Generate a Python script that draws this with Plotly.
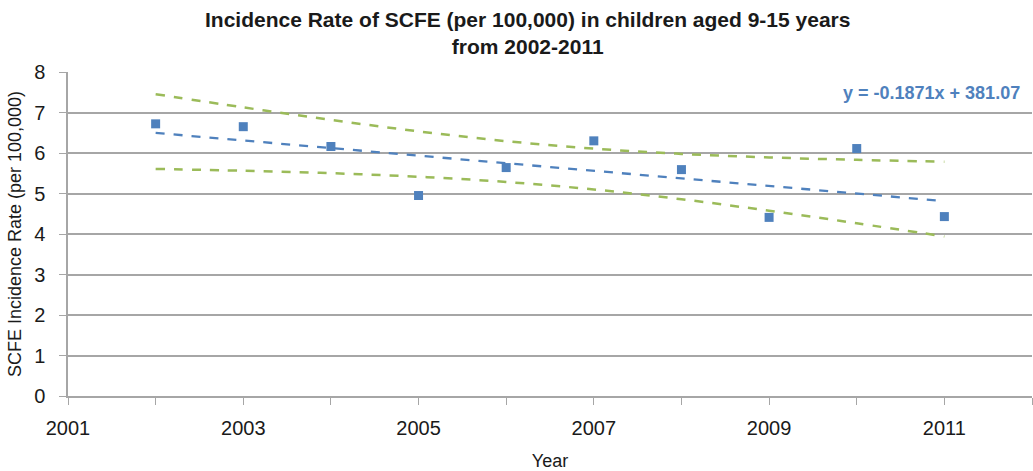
import numpy as np
import plotly.graph_objects as go

years = [2002, 2003, 2004, 2005, 2006, 2007, 2008, 2009, 2010, 2011]
rates = [6.72, 6.65, 6.16, 4.95, 5.64, 6.30, 5.59, 4.41, 6.11, 4.43]
trend_slope = -0.1871
trend_intercept = 381.07
t_crit = 2.306  # t(0.975, df=8)

x = np.array(years, dtype=float)
y = np.array(rates)
n = len(x)
b, a = np.polyfit(x, y, 1)
fit = a + b * x
s = np.sqrt(np.sum((y - fit) ** 2) / (n - 2))
sxx = np.sum((x - x.mean()) ** 2)
half = t_crit * s * np.sqrt(1.0 / n + (x - x.mean()) ** 2 / sxx)
trend = trend_intercept + trend_slope * x

blue = "#4F81BD"
green = "#9BBB59"
font = "Liberation Sans"
text_col = "#1a1a1a"
grid_col = "#A6A6A6"

fig = go.Figure()
fig.add_trace(go.Scatter(x=x, y=fit + half, mode="lines", line=dict(color=green, width=2.5, dash="dash", shape="spline"), hoverinfo="skip"))
fig.add_trace(go.Scatter(x=x, y=fit - half, mode="lines", line=dict(color=green, width=2.5, dash="dash", shape="spline"), hoverinfo="skip"))
fig.add_trace(go.Scatter(x=x, y=trend, mode="lines", line=dict(color=blue, width=2.3, dash="dash")))
fig.add_trace(go.Scatter(x=years, y=rates, mode="markers", marker=dict(symbol="square", size=9, color=blue)))

fig.add_annotation(x=1, xref="paper", xanchor="right", y=7.49, yref="y", yanchor="middle",
                   text="<b>y = -0.1871x + 381.07</b>", showarrow=False,
                   font=dict(family=font, size=18, color=blue), xshift=-10)

fig.add_annotation(x=0.477, xref="paper", xanchor="center", y=1, yref="paper", yanchor="bottom",
                   yshift=12,
                   text="<b>Incidence Rate of SCFE (per 100,000) in children aged 9-15 years<br>from 2002-2011</b>",
                   showarrow=False, font=dict(family=font, size=21, color=text_col))

fig.update_layout(
    width=1033, height=471,
    margin=dict(l=68, r=1, t=72, b=75, autoexpand=False),
    paper_bgcolor="white", plot_bgcolor="white",
    showlegend=False,
    font=dict(family=font, color=text_col),
)
fig.update_xaxes(range=[2001, 2012], dtick=2, tick0=2001, showgrid=False, automargin=False,
                 showline=True, linecolor=grid_col, linewidth=1.5,
                 ticks="outside", ticklen=7, tickcolor=grid_col, ticklabelstandoff=6,
                 minor=dict(dtick=1, ticks="outside", ticklen=7, tickcolor=grid_col, showgrid=False),
                 tickfont=dict(size=20), zeroline=False,
                 title=dict(text="Year", font=dict(size=18), standoff=22))
fig.update_yaxes(range=[0, 8], dtick=1, showgrid=True, gridcolor=grid_col, gridwidth=1.5, automargin=False,
                 showline=True, linecolor=grid_col, linewidth=1.5,
                 ticks="outside", ticklen=7, tickcolor=grid_col, ticklabelstandoff=10,
                 tickfont=dict(size=20), zeroline=False,
                 title=dict(text="SCFE Incidence Rate (per 100,000)", font=dict(size=18), standoff=8))

fig.write_html("out.html", config={"displayModeBar": False},
               post_script="document.body.style.margin='0';document.body.style.padding='0';")
